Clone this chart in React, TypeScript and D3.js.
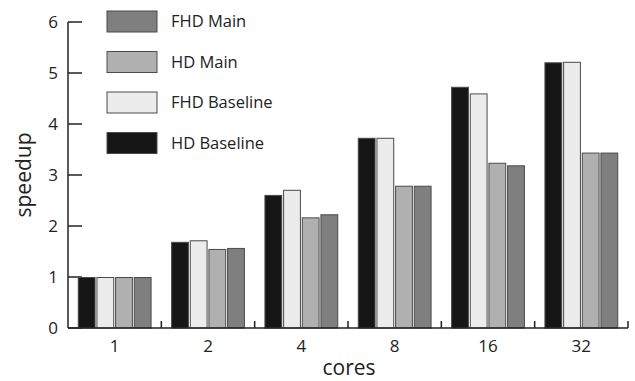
import * as d3 from "d3";

// data
const cores = ["1", "2", "4", "8", "16", "32"];
const seriesNames = ["HD Baseline", "FHD Baseline", "HD Main", "FHD Main"];
const hdBaseline = [0.99, 1.68, 2.6, 3.72, 4.72, 5.2];
const fhdBaseline = [0.99, 1.71, 2.7, 3.72, 4.59, 5.21];
const hdMain = [0.99, 1.54, 2.16, 2.78, 3.23, 3.43];
const fhdMain = [0.99, 1.56, 2.22, 2.78, 3.18, 3.43];
const yTicks = [0, 1, 2, 3, 4, 5, 6];
const legendOrder = ["FHD Main", "HD Main", "FHD Baseline", "HD Baseline"];

const seriesValues = [hdBaseline, fhdBaseline, hdMain, fhdMain];
const colors: Record<string, string> = {
  "HD Baseline": "#161616",
  "FHD Baseline": "#ececec",
  "HD Main": "#b0b0b0",
  "FHD Main": "#7f7f7f",
};

const font = "'Open Sans', sans-serif";

const App = () => {
  const width = 635;
  const height = 381;
  const left = 68;
  const right = 628;
  const top = 22;
  const bottom = 328;

  const x = d3
    .scaleBand()
    .domain(cores)
    .range([left, right])
    .paddingInner(0.22)
    .paddingOuter(0.11);

  const xInner = d3
    .scaleBand()
    .domain(seriesNames)
    .range([0, x.bandwidth()])
    .paddingInner(0.1);

  const y = d3.scaleLinear().domain([0, 6]).range([bottom, top]);

  const step = x.step();
  const axisColor = "#222";

  return (
    <svg
      width={width}
      height={height}
      style={{ position: "absolute", left: 0, top: 0, background: "#fff" }}
    >
      {/* y ticks (drawn under the bars) */}
      {yTicks.map((t) => (
        <g key={t}>
          <line x1={left} x2={left + 14} y1={y(t)} y2={y(t)} stroke={axisColor} strokeWidth={1.5} />
          <text
            x={left - 10}
            y={y(t)}
            dy="0.36em"
            textAnchor="end"
            fontFamily={font}
            fontSize={17}
            fill="#222"
          >
            {t}
          </text>
        </g>
      ))}

      {/* bars */}
      {cores.map((c, i) => (
        <g key={c} transform={`translate(${x(c)},0)`}>
          {seriesNames.map((s, j) => (
            <rect
              key={s}
              x={xInner(s)}
              y={y(seriesValues[j][i])}
              width={xInner.bandwidth()}
              height={bottom - y(seriesValues[j][i])}
              fill={colors[s]}
              stroke="#4a4a4a"
              strokeWidth={1}
            />
          ))}
        </g>
      ))}

      {/* axes */}
      <line x1={left} x2={left} y1={top} y2={bottom} stroke={axisColor} strokeWidth={1.5} />
      <line x1={left} x2={right} y1={bottom} y2={bottom} stroke={axisColor} strokeWidth={1.5} />
      {cores.map((c, i) => (
        <line
          key={c}
          x1={left + step * (i + 1)}
          x2={left + step * (i + 1)}
          y1={bottom}
          y2={bottom - 7}
          stroke={axisColor}
          strokeWidth={1.5}
        />
      ))}
      {cores.map((c) => (
        <text
          key={c}
          x={(x(c) ?? 0) + x.bandwidth() / 2}
          y={bottom + 18}
          dy="0.36em"
          textAnchor="middle"
          fontFamily={font}
          fontSize={17}
          fill="#222"
        >
          {c}
        </text>
      ))}

      {/* axis titles */}
      <text
        x={349}
        y={367}
        dy="0.36em"
        textAnchor="middle"
        fontFamily={font}
        fontSize={21}
        fill="#222"
      >
        cores
      </text>
      <text
        transform="translate(23,175) rotate(-90)"
        dy="0.36em"
        textAnchor="middle"
        fontFamily={font}
        fontSize={21}
        fill="#222"
      >
        speedup
      </text>

      {/* legend */}
      {legendOrder.map((s, i) => (
        <g key={s} transform={`translate(107,${11 + i * 40.5})`}>
          <rect width={50} height={21} fill={colors[s]} stroke="#4a4a4a" strokeWidth={1} />
          <text x={64} y={10.5} dy="0.36em" fontFamily={font} fontSize={16.5} fill="#222">
            {s}
          </text>
        </g>
      ))}
    </svg>
  );
};

export default App;
